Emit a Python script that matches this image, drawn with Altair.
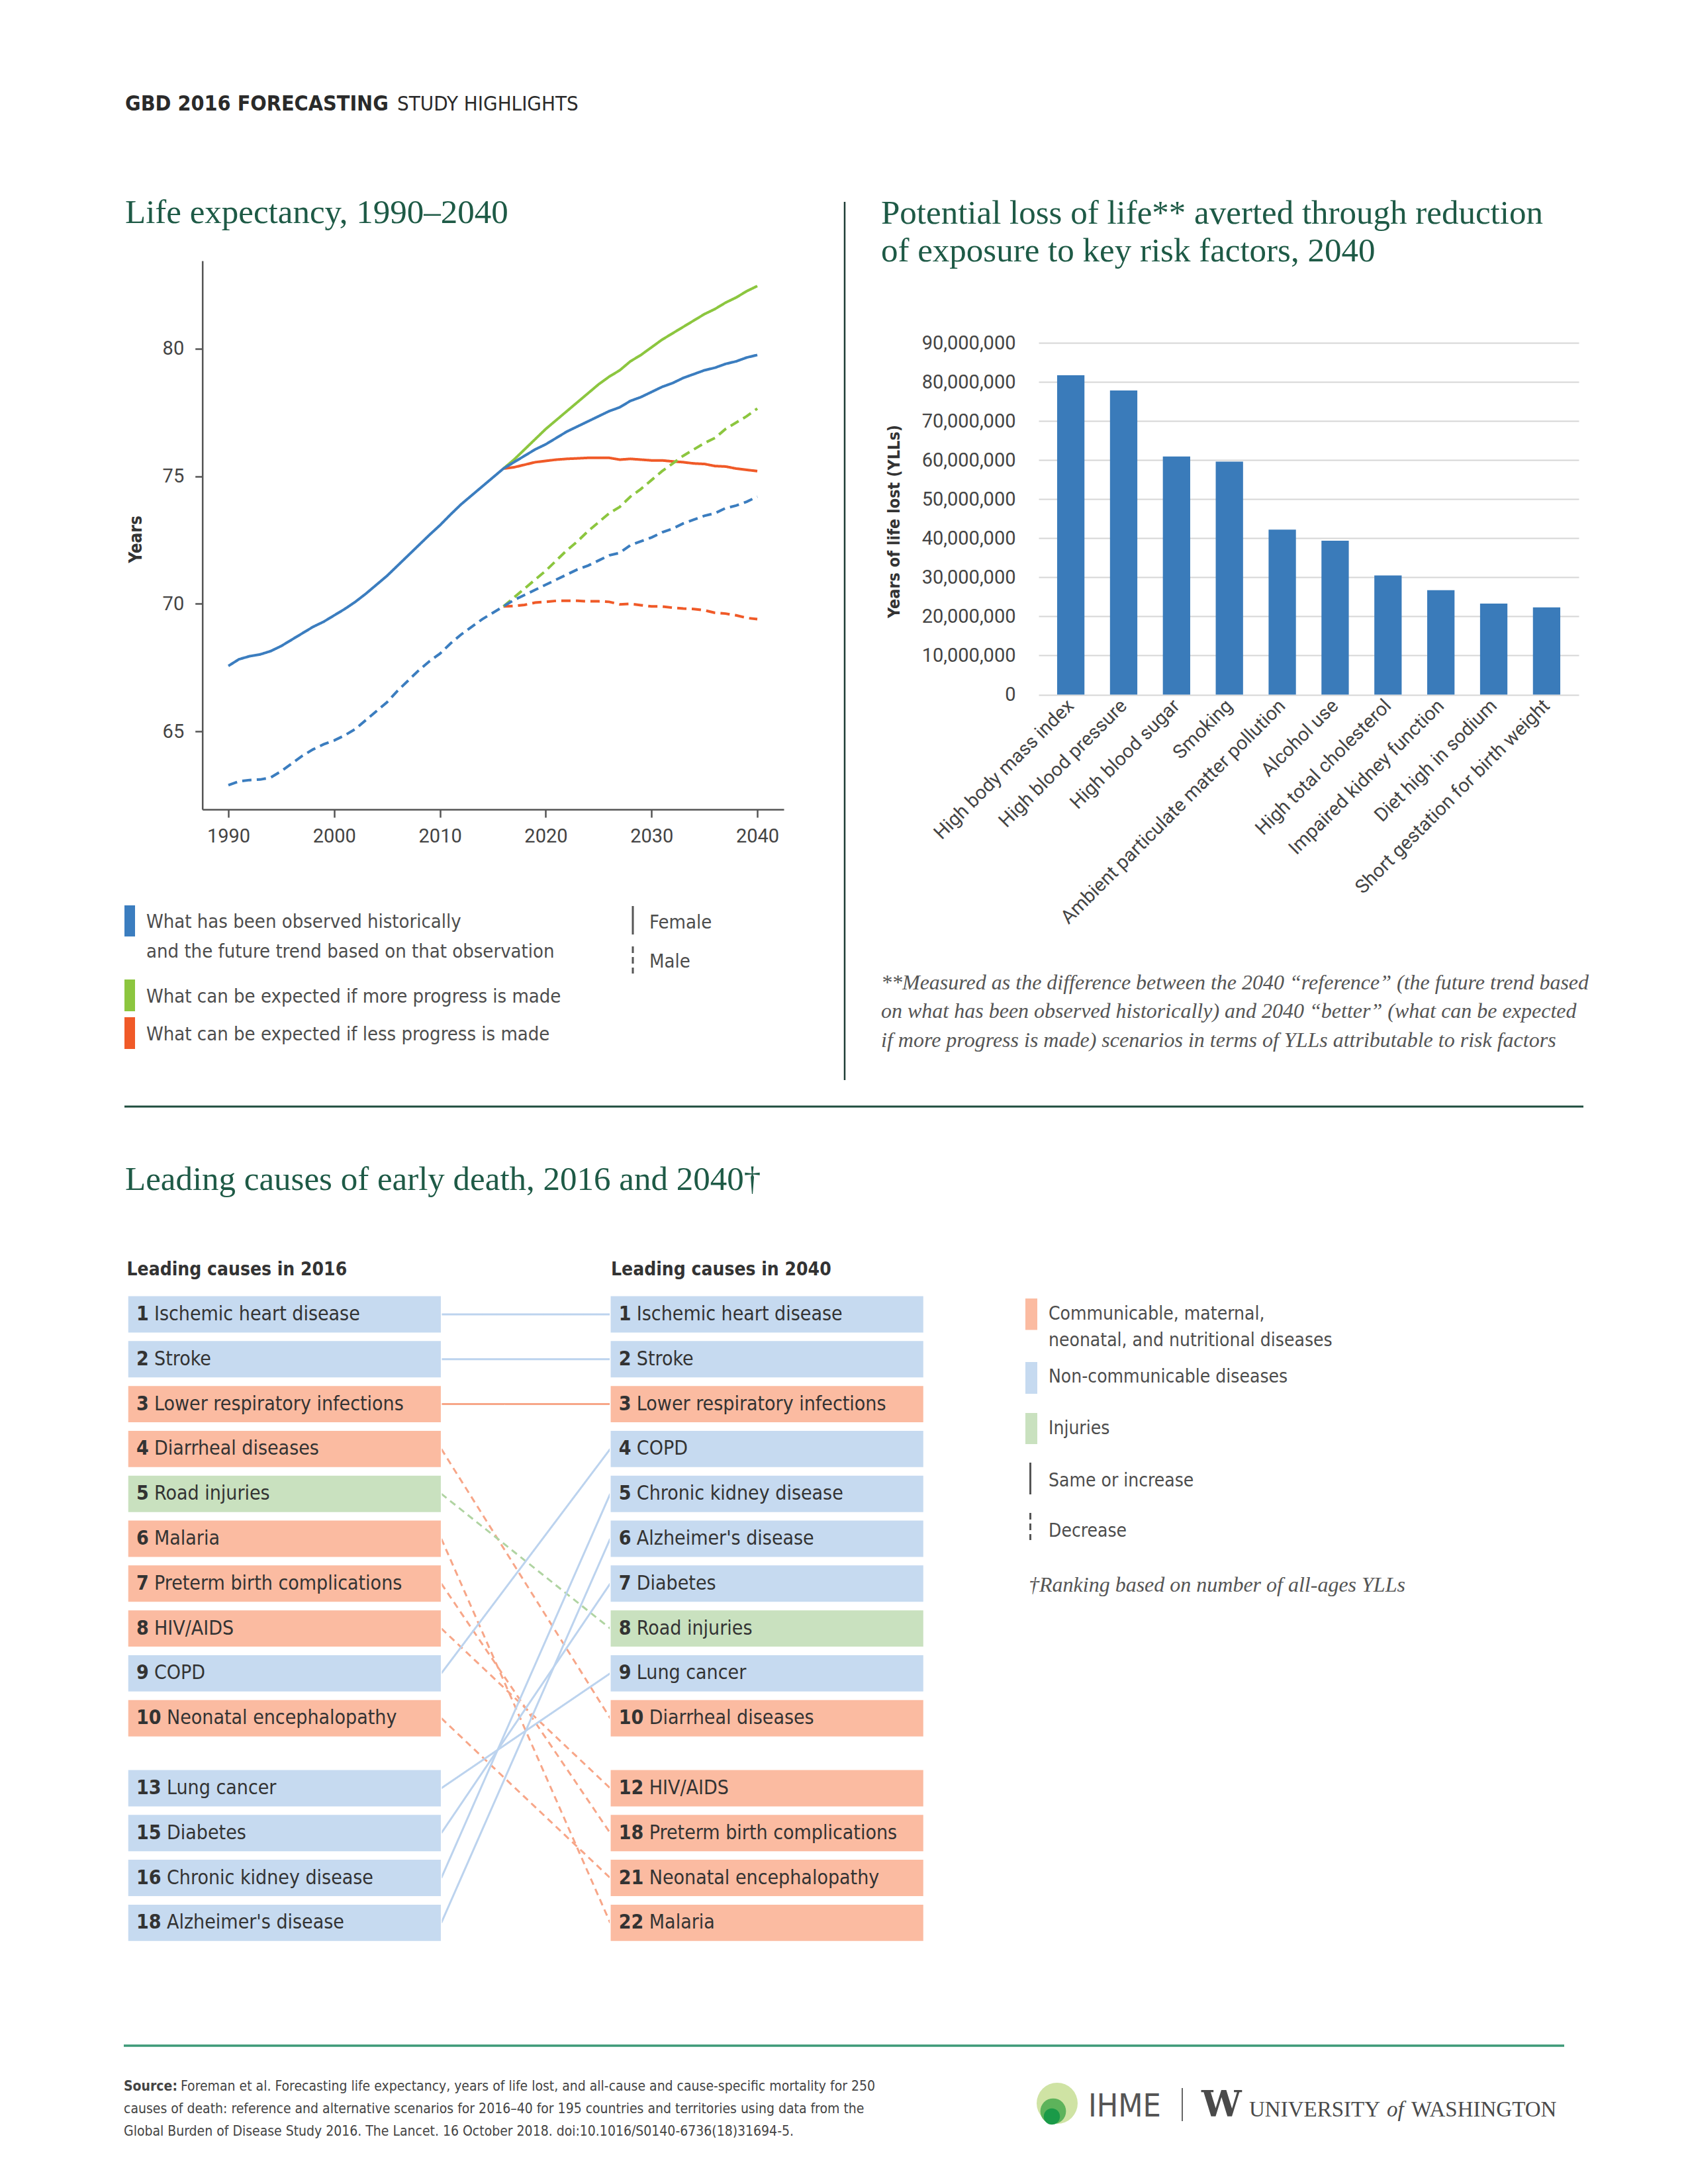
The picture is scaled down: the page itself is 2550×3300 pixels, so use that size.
import altair as alt
import pandas as pd

W, H = 2534, 3284
OFF = 8


def P(v):
    return v - OFF


NARROW = "Liberation Sans Narrow, Arial Narrow, DejaVu Sans Condensed, Roboto, sans-serif"
SANS = "Roboto, Open Sans, sans-serif"
SERIF = "Liberation Serif, Times New Roman, serif"
TITLE_GREEN = "#1e5a46"
DARK = "#333333"
GREY = "#4d4d4d"
BLUE = "#3b7dbf"
GREEN = "#8cc63f"
RED = "#f05a28"
BAR = "#3a7bba"

# ---------------- data: life expectancy ----------------
hist_years = list(range(1990, 2017))
future_years = list(range(2016, 2041))
female_observed = [67.57, 67.83, 67.95, 68.02, 68.15, 68.35, 68.6, 68.85, 69.1, 69.3,
                   69.55, 69.8, 70.08, 70.4, 70.75, 71.1, 71.5, 71.9, 72.3, 72.7,
                   73.08, 73.5, 73.9, 74.25, 74.6, 74.95, 75.3]
male_observed = [62.9, 63.05, 63.1, 63.12, 63.2, 63.45, 63.75, 64.05, 64.3, 64.5,
                 64.65, 64.85, 65.1, 65.45, 65.8, 66.15, 66.6, 67.0, 67.4, 67.75,
                 68.05, 68.45, 68.8, 69.1, 69.4, 69.65, 69.9]
female_reference = [75.3, 75.55, 75.8, 76.05, 76.25, 76.5, 76.75, 76.95, 77.15, 77.35,
                    77.55, 77.7, 77.95, 78.1, 78.3, 78.5, 78.65, 78.85, 79.0, 79.15,
                    79.25, 79.4, 79.5, 79.65, 79.75]
female_better = [75.3, 75.65, 76.05, 76.45, 76.85, 77.2, 77.55, 77.9, 78.25, 78.6,
                 78.9, 79.15, 79.5, 79.75, 80.05, 80.35, 80.6, 80.85, 81.1, 81.35,
                 81.55, 81.8, 82.0, 82.25, 82.45]
female_worse = [75.3, 75.35, 75.45, 75.55, 75.6, 75.65, 75.68, 75.7, 75.72, 75.72,
                75.72, 75.65, 75.68, 75.65, 75.62, 75.62, 75.58, 75.55, 75.5, 75.48,
                75.4, 75.38, 75.3, 75.25, 75.2]
male_reference = [69.9, 70.15, 70.35, 70.55, 70.75, 70.95, 71.15, 71.35, 71.5, 71.7,
                  71.9, 72.0, 72.3, 72.45, 72.6, 72.8, 72.95, 73.15, 73.3, 73.45,
                  73.55, 73.75, 73.85, 74.0, 74.2]
male_better = [69.9, 70.25, 70.6, 70.95, 71.3, 71.7, 72.1, 72.45, 72.85, 73.2,
               73.55, 73.8, 74.2, 74.5, 74.85, 75.2, 75.5, 75.8, 76.05, 76.3,
               76.5, 76.85, 77.1, 77.35, 77.65]
male_worse = [69.9, 69.92, 69.96, 70.05, 70.08, 70.12, 70.12, 70.12, 70.1, 70.1,
              70.08, 69.98, 70.0, 69.95, 69.9, 69.9, 69.85, 69.82, 69.8, 69.75,
              69.65, 69.62, 69.55, 69.45, 69.4]
year_ticks = [1990, 2000, 2010, 2020, 2030, 2040]
le_ticks = [65, 70, 75, 80]

# ---------------- data: YLLs averted ----------------
risk_factors = ["High body mass index", "High blood pressure", "High blood sugar", "Smoking",
                "Ambient particulate matter pollution", "Alcohol use", "High total cholesterol",
                "Impaired kidney function", "Diet high in sodium", "Short gestation for birth weight"]
yll_averted = [81_700_000, 77_800_000, 60_900_000, 59_600_000, 42_200_000,
               39_350_000, 30_500_000, 26_700_000, 23_300_000, 22_300_000]
yll_ticks = [0, 10_000_000, 20_000_000, 30_000_000, 40_000_000, 50_000_000,
             60_000_000, 70_000_000, 80_000_000, 90_000_000]

# ---------------- data: leading causes ----------------
causes_2016 = ["Ischemic heart disease", "Stroke", "Lower respiratory infections", "Diarrheal diseases",
               "Road injuries", "Malaria", "Preterm birth complications", "HIV/AIDS", "COPD",
               "Neonatal encephalopathy", "Lung cancer", "Diabetes", "Chronic kidney disease",
               "Alzheimer's disease"]
ranks_2016 = [1, 2, 3, 4, 5, 6, 7, 8, 9, 10, 13, 15, 16, 18]
causes_2040 = ["Ischemic heart disease", "Stroke", "Lower respiratory infections", "COPD",
               "Chronic kidney disease", "Alzheimer's disease", "Diabetes", "Road injuries",
               "Lung cancer", "Diarrheal diseases", "HIV/AIDS", "Preterm birth complications",
               "Neonatal encephalopathy", "Malaria"]
ranks_2040 = [1, 2, 3, 4, 5, 6, 7, 8, 9, 10, 12, 18, 21, 22]
ncd_causes = ["Ischemic heart disease", "Stroke", "COPD", "Lung cancer", "Diabetes",
              "Chronic kidney disease", "Alzheimer's disease"]
injury_causes = ["Road injuries"]
groups = ["cmnn", "ncd", "inj"]
box_colors = ["#fbbba1", "#c6daf0", "#c9e1bf"]
link_colors = ["#f7a688", "#bcd3ee", "#b0d4a2"]

# ---------------- build frames ----------------
line_rows = []


def add_series(name, scen, sex, years, vals):
    for yr, v in zip(years, vals):
        line_rows.append(dict(series=name, scen=scen, sex=sex, year=yr, le=v))


add_series("F-worse", "worse", "Female", future_years, female_worse)
add_series("M-worse", "worse", "Male", future_years, male_worse)
add_series("F-better", "better", "Female", future_years, female_better)
add_series("M-better", "better", "Male", future_years, male_better)
add_series("F-ref", "ref", "Female", hist_years + future_years[1:], female_observed + female_reference[1:])
add_series("M-ref", "ref", "Male", hist_years + future_years[1:], male_observed + male_reference[1:])
line_df = pd.DataFrame(line_rows)

line_chart = alt.Chart(line_df).mark_line(strokeWidth=4, strokeCap="butt").encode(
    x=alt.X("year:Q",
            scale=alt.Scale(domain=[1987.54, 2042.5], range=[P(305.7), P(1184)], nice=False, zero=False),
            axis=alt.Axis(orient="bottom", offset=P(1223) - H, values=year_ticks, format="d", title=None,
                          grid=False, domainColor="#555555", domainWidth=2.5, tickColor="#555555",
                          tickWidth=2.5, tickSize=12, labelPadding=14, labelFont=SANS, labelFontSize=29,
                          labelColor="#444444", labelFlush=False)),
    y=alt.Y("le:Q",
            scale=alt.Scale(domain=[61.95, 83.44], range=[P(1223), P(394)], nice=False, zero=False),
            axis=alt.Axis(orient="left", offset=-P(305.7), values=le_ticks, title=None, grid=False,
                          domainColor="#555555", domainWidth=2.5, tickColor="#555555", tickWidth=2.5,
                          tickSize=11, labelPadding=17, labelFont=SANS, labelFontSize=29,
                          labelColor="#444444", labelFlush=False)),
    color=alt.Color("scen:N", scale=alt.Scale(domain=["ref", "better", "worse"], range=[BLUE, GREEN, RED]),
                    legend=None),
    strokeDash=alt.StrokeDash("sex:N", scale=alt.Scale(domain=["Female", "Male"], range=[[1, 0], [14, 8]]),
                              legend=None),
    detail="series:N",
)

bar_df = pd.DataFrame({"factor": risk_factors, "yll": yll_averted})
bar_chart = alt.Chart(bar_df).mark_bar(color=BAR).encode(
    x=alt.X("factor:N", sort=risk_factors,
            scale=alt.Scale(range=[P(1569), P(2385)], paddingInner=0.483, paddingOuter=0.35),
            axis=alt.Axis(orient="bottom", offset=P(1049.5) - H, title=None, labelAngle=-45,
                          labelAlign="right", labelBaseline="middle", labelPadding=12, ticks=False,
                          tickSize=0, domain=False, labelFont=SANS, labelFontSize=29,
                          labelColor="#444444", labelLimit=1000, labelOverlap=False)),
    y=alt.Y("yll:Q",
            scale=alt.Scale(domain=[0, 90_000_000], range=[P(1049.5), P(518)], nice=False, zero=False),
            axis=alt.Axis(orient="left", offset=-P(1569), title=None, values=yll_ticks, format=",d",
                          grid=True, gridColor="#d6d6d6", gridWidth=2, domain=False, ticks=False,
                          tickSize=0, labelPadding=35, labelFont=SANS, labelFontSize=29,
                          labelColor="#444444")),
)

# ---------------- table ----------------
def group_of(c):
    if c in ncd_causes:
        return "ncd"
    if c in injury_causes:
        return "inj"
    return "cmnn"


BOXW = 473.7 / 1202.5
HALF = 0.416
BOX_FS = 30


def slot(i):
    return i + (0.56 if i >= 10 else 0.0)


box_rows = []
for i, (c, r) in enumerate(zip(causes_2016, ranks_2016)):
    box_rows.append(dict(side="2016", cause=c, rank=str(r), group=group_of(c), x0=0.0, x1=BOXW, s=slot(i)))
for i, (c, r) in enumerate(zip(causes_2040, ranks_2040)):
    box_rows.append(dict(side="2040", cause=c, rank=str(r), group=group_of(c), x0=1 - BOXW, x1=1.0, s=slot(i)))
box_df = pd.DataFrame(box_rows)
box_df["s0"] = box_df["s"] - HALF
box_df["s1"] = box_df["s"] + HALF
box_df["digits"] = box_df["rank"].str.len()

link_rows = []
for i, c in enumerate(causes_2016):
    j = causes_2040.index(c)
    change = "same" if ranks_2040[j] <= ranks_2016[i] else "decrease"
    link_rows.append(dict(cause=c, group=group_of(c), change=change, xa=BOXW, xb=1 - BOXW,
                          sa=slot(i), sb=slot(j)))
link_df = pd.DataFrame(link_rows)

tx = alt.Scale(domain=[0, 1], range=[P(193), P(1395.5)], nice=False, zero=False)
ty = alt.Scale(domain=[0, 13.56], range=[P(1986), P(1986 + 67.8 * 13.56)], nice=False, zero=False)

links = alt.Chart(link_df).mark_rule(strokeWidth=3).encode(
    x=alt.X("xa:Q", scale=tx, axis=None), x2="xb:Q",
    y=alt.Y("sa:Q", scale=ty, axis=None), y2="sb:Q",
    color=alt.Color("group:N", scale=alt.Scale(domain=groups, range=link_colors), legend=None),
    strokeDash=alt.StrokeDash("change:N", scale=alt.Scale(domain=["same", "decrease"], range=[[1, 0], [10, 7]]),
                              legend=None),
)

boxes = alt.Chart(box_df).mark_rect(stroke="#ffffff", strokeWidth=1.5).encode(
    x=alt.X("x0:Q", scale=tx, axis=None), x2="x1:Q",
    y=alt.Y("s0:Q", scale=ty, axis=None), y2="s1:Q",
    color=alt.Color("group:N", scale=alt.Scale(domain=groups, range=box_colors), legend=None),
)

box_num = alt.Chart(box_df).mark_text(align="left", baseline="middle", dx=13, font=NARROW, fontSize=BOX_FS,
                                      fontWeight="bold", color=DARK).encode(
    x=alt.X("x0:Q", scale=tx, axis=None), y=alt.Y("s:Q", scale=ty, axis=None), text="rank:N")

box_name1 = alt.Chart(box_df).transform_filter(alt.datum.digits == 1).mark_text(
    align="left", baseline="middle", dx=13 + 27, font=NARROW, fontSize=BOX_FS, color=DARK).encode(
    x=alt.X("x0:Q", scale=tx, axis=None), y=alt.Y("s:Q", scale=ty, axis=None), text="cause:N")

box_name2 = alt.Chart(box_df).transform_filter(alt.datum.digits == 2).mark_text(
    align="left", baseline="middle", dx=13 + 46, font=NARROW, fontSize=BOX_FS, color=DARK).encode(
    x=alt.X("x0:Q", scale=tx, axis=None), y=alt.Y("s:Q", scale=ty, axis=None), text="cause:N")


# ---------------- annotation helpers ----------------
def texts(rows, align="left", baseline="alphabetic", **kw):
    df = pd.DataFrame(rows, columns=["t", "px", "py"])
    df["px"] = df["px"] - OFF
    df["py"] = df["py"] - OFF
    return alt.Chart(df).mark_text(align=align, baseline=baseline, **kw).encode(
        x=alt.X("px:Q", scale=None, axis=None), y=alt.Y("py:Q", scale=None, axis=None), text="t:N")


def vrules(rows, **kw):
    df = pd.DataFrame(rows, columns=["px", "py", "py2"])
    df = df - OFF
    return alt.Chart(df).mark_rule(**kw).encode(
        x=alt.X("px:Q", scale=None, axis=None), y=alt.Y("py:Q", scale=None, axis=None), y2="py2:Q")


def hrules(rows, **kw):
    df = pd.DataFrame(rows, columns=["px", "px2", "py"])
    df = df - OFF
    return alt.Chart(df).mark_rule(**kw).encode(
        x=alt.X("px:Q", scale=None, axis=None), x2="px2:Q", y=alt.Y("py:Q", scale=None, axis=None))


def dots(rows, **kw):
    df = pd.DataFrame(rows, columns=["px", "py"])
    df = df - OFF
    return alt.Chart(df).mark_circle(opacity=1, **kw).encode(
        x=alt.X("px:Q", scale=None, axis=None), y=alt.Y("py:Q", scale=None, axis=None))


LEG_FS = 29

layers = [
    # header and titles
    texts([("GBD 2016 FORECASTING", 189, 167)], font=NARROW, fontSize=32, fontWeight="bold", color="#2a2a2a"),
    texts([("STUDY HIGHLIGHTS", 600, 167)], font=NARROW, fontSize=31, color="#2a2a2a"),
    texts([("Life expectancy, 1990–2040", 189, 337),
           ("Potential loss of life** averted through reduction", 1331, 337.5),
           ("of exposure to key risk factors, 2040", 1331, 395),
           ("Leading causes of early death, 2016 and 2040†", 189, 1798)],
          font=SERIF, fontSize=51, color=TITLE_GREEN),
    # dividers
    vrules([(1276, 305, 1632)], color="#1f3d36", strokeWidth=2.5),
    hrules([(188, 2392, 1672)], color="#1e4d3e", strokeWidth=3),
    hrules([(187, 2363, 3091)], color="#3d9a78", strokeWidth=3.5),
    # charts
    bar_chart,
    line_chart,
    texts([("Years", 206, 815)], align="center", baseline="middle", angle=270, font=NARROW,
          fontSize=26, fontWeight="bold", color=DARK),
    texts([("Years of life lost (YLLs)", 1351, 788)], align="center", baseline="middle", angle=270,
          font=NARROW, fontSize=25, fontWeight="bold", color=DARK),
    # line legend
    vrules([(196, 1368, 1415)], color=BLUE, strokeWidth=16),
    vrules([(196, 1480, 1528)], color=GREEN, strokeWidth=16),
    vrules([(196, 1537, 1585)], color=RED, strokeWidth=16),
    texts([("What has been observed historically", 221, 1402),
           ("and the future trend based on that observation", 221, 1447),
           ("What can be expected if more progress is made", 221, 1515),
           ("What can be expected if less progress is made", 221, 1572),
           ("Female", 981, 1403),
           ("Male", 981, 1462)], font=NARROW, fontSize=LEG_FS, color=GREY),
    vrules([(956, 1369, 1412)], color="#555555", strokeWidth=3),
    vrules([(956, 1430, 1471)], color="#555555", strokeWidth=3, strokeDash=[10, 6]),
    # bar footnote
    texts([("**Measured as the difference between the 2040 “reference” (the future trend based", 1331, 1495),
           ("on what has been observed historically) and 2040 “better” (what can be expected", 1331, 1538),
           ("if more progress is made) scenarios in terms of YLLs attributable to risk factors", 1331, 1582)],
          font=SERIF, fontSize=32, fontStyle="italic", color="#555555"),
    # table
    texts([("Leading causes in 2016", 191.5, 1927), ("Leading causes in 2040", 923, 1927)],
          font=NARROW, fontSize=28, fontWeight="bold", color=DARK),
    links, boxes, box_num, box_name1, box_name2,
    # right legend
    vrules([(1558, 1962, 2009.5)], color=box_colors[0], strokeWidth=18),
    vrules([(1558, 2058, 2106)], color=box_colors[1], strokeWidth=18),
    vrules([(1558, 2135, 2182)], color=box_colors[2], strokeWidth=18),
    texts([("Communicable, maternal,", 1584, 1994),
           ("neonatal, and nutritional diseases", 1584, 2034),
           ("Non-communicable diseases", 1584, 2089),
           ("Injuries", 1584, 2167),
           ("Same or increase", 1584, 2246),
           ("Decrease", 1584, 2322)], font=NARROW, fontSize=28, color=GREY),
    vrules([(1556.5, 2210, 2258)], color="#555555", strokeWidth=3),
    vrules([(1556.5, 2286, 2327)], color="#555555", strokeWidth=3, strokeDash=[10, 6]),
    texts([("†Ranking based on number of all-ages YLLs", 1554, 2405)],
          font=SERIF, fontSize=32, fontStyle="italic", color="#555555"),
    # footer
    texts([("Source:", 187, 3159)], font=NARROW, fontSize=21, fontWeight="bold", color="#444444"),
    texts([("Foreman et al. Forecasting life expectancy, years of life lost, and all-cause and cause-specific mortality for 250", 273, 3159),
           ("causes of death: reference and alternative scenarios for 2016–40 for 195 countries and territories using data from the", 187, 3193),
           ("Global Burden of Disease Study 2016. The Lancet. 16 October 2018. doi:10.1016/S0140-6736(18)31694-5.", 187, 3227)],
          font=NARROW, fontSize=21, color="#444444"),
    dots([(1597, 3178)], size=3844, color="#cfe3a4"),
    dots([(1591, 3190)], size=1500, color="#5db35b"),
    dots([(1589, 3198)], size=600, color="#1a9a48"),
    texts([("IHME", 1644, 3198)], font=NARROW, fontSize=48, color="#555555"),
    vrules([(1786, 3155, 3205)], color="#666666", strokeWidth=2),
    texts([("W", 1815, 3198)], font="DejaVu Serif", fontSize=54, fontWeight="bold", color="#4a4a4a"),
    texts([("UNIVERSITY", 1887, 3198), ("WASHINGTON", 2132, 3198)], font=SERIF, fontSize=33, color="#4a4a4a"),
    texts([("of", 2095, 3198)], font=SERIF, fontSize=33, fontStyle="italic", color="#4a4a4a"),
]

chart = alt.layer(*layers).resolve_scale(
    x="independent", y="independent", color="independent", strokeDash="independent"
).properties(width=W, height=H, padding=0, autosize="none", background="#ffffff").configure_view(stroke=None)

chart.save("out.html", embed_options={"renderer": "svg", "actions": False})
